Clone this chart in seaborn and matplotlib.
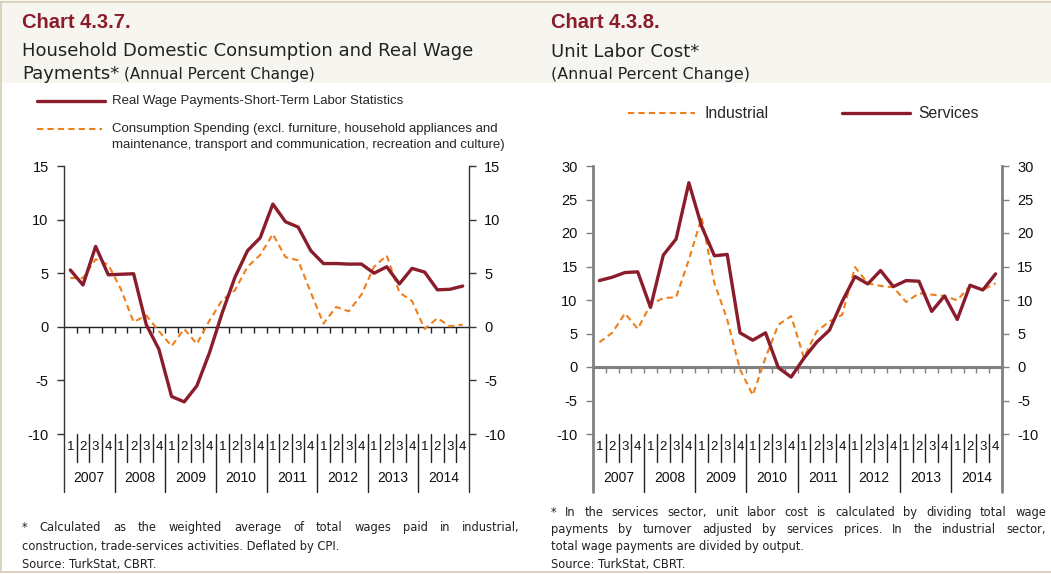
import numpy as np
import pandas as pd
import matplotlib.pyplot as plt
import seaborn as sns
from matplotlib.lines import Line2D
from matplotlib.patches import Rectangle

# Data (2007Q1 - 2014Q4)
years = ['2007', '2008', '2009', '2010', '2011', '2012', '2013', '2014']
quarters = ['1', '2', '3', '4'] * len(years)

wage_payments = [5.3, 3.9, 7.5, 4.85, 4.9, 4.95, 0.2, -2.1,
                 -6.5, -7.0, -5.5, -2.4, 1.3, 4.6, 7.1, 8.3,
                 11.45, 9.8, 9.3, 7.1, 5.9, 5.9, 5.85, 5.85,
                 5.0, 5.6, 4.0, 5.45, 5.1, 3.45, 3.5, 3.8]
consumption = [4.55, 4.55, 6.3, 5.8, 3.5, 0.45, 1.05, -0.4,
               -1.8, -0.2, -1.6, 0.6, 2.5, 3.4, 5.6, 6.7,
               8.65, 6.5, 6.2, 3.2, 0.3, 1.85, 1.45, 3.0,
               5.6, 6.65, 3.2, 2.4, -0.2, 0.8, 0.05, 0.2]

industrial_ulc = [3.7, 5.1, 8.0, 5.7, 9.3, 10.3, 10.4, 16.0,
                  22.3, 12.5, 7.1, -0.35, -4.2, 1.4, 6.3, 7.6,
                  1.4, 5.3, 6.8, 7.8, 14.9, 12.5, 12.1, 11.9,
                  9.7, 11.0, 10.8, 10.6, 9.95, 12.1, 11.5, 12.5]
services_ulc = [12.9, 13.4, 14.1, 14.2, 8.9, 16.7, 19.1, 27.5,
                21.0, 16.6, 16.8, 5.1, 4.0, 5.1, -0.1, -1.5,
                1.3, 3.7, 5.5, 9.8, 13.5, 12.4, 14.4, 12.0,
                12.9, 12.8, 8.3, 10.6, 7.1, 12.2, 11.5, 13.9]

RED = '#8A1C2B'
ORANGE = '#EF7F1A'
SOLID = dict(color=RED, linewidth=2.4)
DASHED = dict(color=ORANGE, linewidth=1.5, linestyle=(0, (3, 2)))

sns.set_theme(style='white')
plt.rcParams['font.family'] = ['Liberation Sans', 'DejaVu Sans']
plt.rcParams['axes.unicode_minus'] = False
GOTHIC = ['DejaVu Sans']

W, H = 1051, 574
fig = plt.figure(figsize=(W / 100, H / 100), dpi=100)


def fx(x):
    return x / W


def fy(y):
    return 1 - y / H


# header band and frame
fig.add_artist(Rectangle((0, fy(83)), 1, 83 / H, transform=fig.transFigure,
                         facecolor='#F7F5F0', edgecolor='none', zorder=0))
frame = '#D6CCB4'
fig.add_artist(Line2D([0, 1], [fy(2), fy(2)], color=frame, lw=1.2))
fig.add_artist(Line2D([fx(1), fx(1)], [fy(2), fy(572)], color=frame, lw=1.2))
fig.add_artist(Line2D([0, 1], [fy(572), fy(572)], color=frame, lw=1.2))


def make_axes(x0, x1):
    return fig.add_axes([fx(x0), fy(434), fx(x1) - fx(x0), fy(166) - fy(434)])


def style_axis(ax, ylim, step, axis_color, axis_lw, zero_color, zero_lw):
    ax.set_xlim(-0.5, 31.5)
    ax.set_ylim(*ylim)
    ax.set_yticks(np.arange(ylim[0], ylim[1] + 1, step))
    ax.tick_params(axis='y', direction='out', length=5, width=1, color=axis_color,
                   left=True, right=True, labelleft=True, labelright=True,
                   labelsize=10.5, pad=6, labelcolor='#111111')
    ax.set_xticks(range(len(quarters)))
    ax.set_xticklabels(quarters)
    ax.tick_params(axis='x', length=0, labelsize=9.5, pad=5, labelcolor='#111111')
    ax.spines['top'].set_visible(False)
    ax.spines['bottom'].set_visible(False)
    for s in ['left', 'right']:
        ax.spines[s].set_color(axis_color)
        ax.spines[s].set_linewidth(axis_lw)
    ax.set_xlabel('')
    ax.set_ylabel('')
    ax.grid(False)
    ax.set_facecolor('none')

    ax.axhline(0, color=zero_color, lw=zero_lw, zorder=1)
    bounds = np.arange(0.5, 31, 1)
    ax.plot(bounds, np.zeros_like(bounds), ls='none', marker=3, ms=4,
            mew=1, color=zero_color, zorder=1)

    trans = ax.get_xaxis_transform()
    for b in np.arange(-0.5, 32, 1):
        long_sep = (b + 0.5) % 4 == 0
        outer = b in (-0.5, 31.5)
        ax.plot([b, b], [0, -0.216 if long_sep else -0.104], transform=trans,
                clip_on=False, color=axis_color if outer else '#222222',
                lw=axis_lw if outer else 1)
    for k, yr in enumerate(years):
        ax.text(4 * k + 1.5, -0.164, yr, transform=trans, ha='center',
                va='center', fontsize=10, color='#111111')


pos = np.arange(len(quarters))

# ---- left chart
ax1 = make_axes(64, 469)
df1 = pd.DataFrame({'pos': pos, 'wage': wage_payments, 'cons': consumption})
sns.lineplot(data=df1, x='pos', y='cons', ax=ax1, zorder=3, **DASHED)
sns.lineplot(data=df1, x='pos', y='wage', ax=ax1, zorder=4, **SOLID)
style_axis(ax1, (-10, 15), 5, '#333333', 1, '#222222', 1)

# ---- right chart
ax2 = make_axes(593, 1002)
df2 = pd.DataFrame({'pos': pos, 'ind': industrial_ulc, 'serv': services_ulc})
sns.lineplot(data=df2, x='pos', y='ind', ax=ax2, zorder=3, **DASHED)
sns.lineplot(data=df2, x='pos', y='serv', ax=ax2, zorder=4, **SOLID)
style_axis(ax2, (-10, 30), 5, '#808080', 2, '#808080', 2.2)

# ---- titles
TITLE = ['Liberation Sans', 'DejaVu Sans']
fig.text(fx(22), fy(23), 'Chart 4.3.7.', fontsize=14.5, fontweight='bold',
         color=RED, family=TITLE, va='center')
fig.text(fx(22), fy(51), 'Household Domestic Consumption and Real Wage',
         fontsize=13, color='#222222', family=GOTHIC, va='center')
fig.text(fx(22), fy(74), 'Payments*', fontsize=13, color='#222222',
         family=GOTHIC, va='center')
fig.text(fx(124), fy(74), '(Annual Percent Change)', fontsize=11,
         color='#222222', family=GOTHIC, va='center')

fig.text(fx(551), fy(23), 'Chart 4.3.8.', fontsize=14.5, fontweight='bold',
         color=RED, family=TITLE, va='center')
fig.text(fx(551), fy(52), 'Unit Labor Cost*', fontsize=13, color='#222222',
         family=GOTHIC, va='center')
fig.text(fx(551), fy(74), '(Annual Percent Change)', fontsize=11.4,
         color='#222222', family=GOTHIC, va='center')

# ---- legends
fig.add_artist(Line2D([fx(37), fx(105)], [fy(101), fy(101)], **SOLID))
fig.text(fx(112), fy(101), 'Real Wage Payments-Short-Term Labor Statistics',
         fontsize=9.5, va='center')
fig.add_artist(Line2D([fx(37), fx(102)], [fy(129), fy(129)], **DASHED))
fig.text(fx(112), fy(129), 'Consumption Spending (excl. furniture, household appliances and',
         fontsize=9.5, va='center')
fig.text(fx(112), fy(145), 'maintenance, transport and communication, recreation and culture)',
         fontsize=9.5, va='center')

fig.add_artist(Line2D([fx(628), fx(695)], [fy(113), fy(113)], **DASHED))
fig.text(fx(704), fy(113), 'Industrial', fontsize=11.3, va='center')
fig.add_artist(Line2D([fx(842), fx(910)], [fy(113), fy(113)], **SOLID))
fig.text(fx(918), fy(113), 'Services', fontsize=11.3, va='center')

# ---- footnotes (justified like the original), y given as text centre
renderer = fig.canvas.get_renderer()
NOTE = 8.3
BASE = 4  # px from visual centre down to baseline


def justified(x0, x1, y, line, size=NOTE):
    words = line.split(' ')
    arts = [fig.text(0, fy(y + BASE), w, fontsize=size, family=GOTHIC,
                     va='baseline', color='#222222') for w in words]
    widths = [a.get_window_extent(renderer).width for a in arts]
    gap = (x1 - x0 - sum(widths)) / (len(words) - 1)
    x = x0
    for a, w in zip(arts, widths):
        a.set_x(fx(x))
        x += w + gap


def plain(x0, y, line, size=NOTE):
    fig.text(fx(x0), fy(y + BASE), line, fontsize=size, family=GOTHIC,
             va='baseline', color='#222222')


justified(22, 520, 527, '* Calculated as the weighted average of total wages paid in industrial,')
plain(22, 546, 'construction, trade-services activities. Deflated by CPI.')
plain(22, 564, 'Source: TurkStat, CBRT.')

justified(551, 1046, 512, '* In the services sector, unit labor cost is calculated by dividing total wage')
justified(551, 1046, 529, 'payments by turnover adjusted by services prices. In the industrial sector,')
plain(551, 546, 'total wage payments are divided by output.')
plain(551, 564, 'Source: TurkStat, CBRT.')

fig.savefig('out.png', dpi=100, facecolor='white')
